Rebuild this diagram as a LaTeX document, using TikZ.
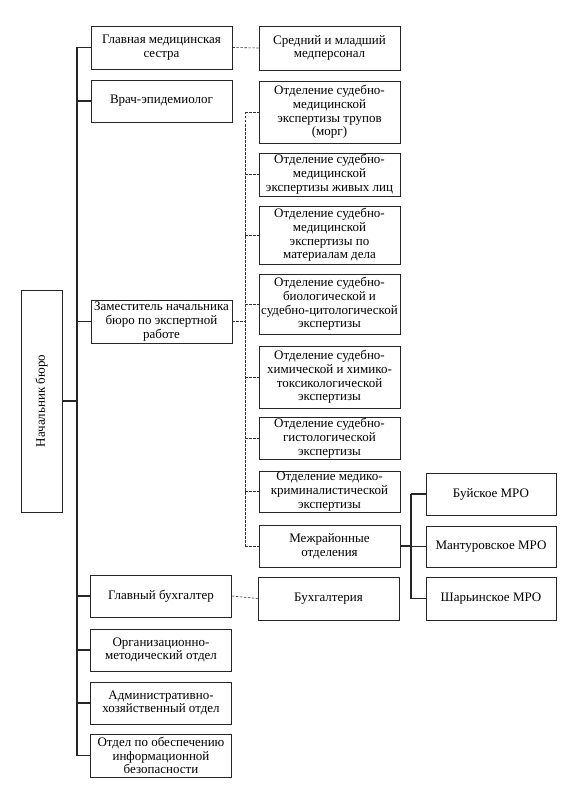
\documentclass[tikz,border=0pt]{standalone}
\usepackage{fontspec}
\setmainfont{Liberation Serif}
\begin{document}
\begin{tikzpicture}[x=1pt,y=-1pt,
  box/.style={draw=black!85, line width=0.7pt, align=center, inner sep=1pt,
    font=\fontsize{13}{13.8}\selectfont, anchor=center},
  trunk/.style={line width=1.3pt, black!85},
  dline/.style={line width=0.6pt, black!80, dash pattern=on 2.5pt off 1.5pt}]
\useasboundingbox (0,0) rectangle (581,797);
% head
\node[box, rotate=90, minimum width=222, minimum height=41] (boss) at (41.5,401) {Начальник бюро};
% left column
\node[box, minimum width=141, minimum height=43] (gms) at (161.5,47.5) {Главная медицинская\\сестра};
\node[box, minimum width=141, minimum height=42] (epi) at (161.5,101) {Врач-эпидемиолог};
\node[box, minimum width=141, minimum height=43] (zam) at (161.5,321.5) {Заместитель начальника\\бюро по экспертной\\работе};
\node[box, minimum width=141, minimum height=42] (gb) at (161,596) {Главный бухгалтер};
\node[box, minimum width=141, minimum height=42] (omo) at (161,650) {Организационно-\\методический отдел};
\node[box, minimum width=141, minimum height=42] (aho) at (161,703) {Административно-\\хозяйственный отдел};
\node[box, minimum width=141, minimum height=43] (ois) at (161,755.5) {Отдел по обеспечению\\информационной\\безопасности};
% middle column
\node[box, minimum width=141, minimum height=44] (med) at (329.5,48) {Средний и младший\\медперсонал};
\node[box, minimum width=141, minimum height=62] (morg) at (329.5,112) {Отделение судебно-\\медицинской\\экспертизы трупов\\(морг)};
\node[box, minimum width=141, minimum height=43] (zhl) at (329.5,174.5) {Отделение судебно-\\медицинской\\экспертизы живых лиц};
\node[box, minimum width=141, minimum height=58] (mat) at (329.5,235) {Отделение судебно-\\медицинской\\экспертизы по\\материалам дела};
\node[box, minimum width=141, minimum height=60] (bio) at (329.5,304) {Отделение судебно-\\биологической и\\судебно-цитологической\\экспертизы};
\node[box, minimum width=141, minimum height=62] (chem) at (329.5,377) {Отделение судебно-\\химической и химико-\\токсикологической\\экспертизы};
\node[box, minimum width=141, minimum height=41] (gist) at (329.5,438.5) {Отделение судебно-\\гистологической\\экспертизы};
\node[box, minimum width=141, minimum height=41] (mk) at (329.5,491.5) {Отделение медико-\\криминалистической\\экспертизы};
\node[box, minimum width=141, minimum height=42] (mezh) at (329.5,546) {Межрайонные\\отделения};
\node[box, minimum width=141, minimum height=43] (buh) at (328.5,598.5) {Бухгалтерия};
% right column
\node[box, minimum width=130, minimum height=42] (buy) at (491,494) {Буйское МРО};
\node[box, minimum width=130, minimum height=41] (mant) at (491,546.5) {Мантуровское МРО};
\node[box, minimum width=130, minimum height=43] (shar) at (491,598.5) {Шарьинское МРО};
% helper coordinates
\coordinate (tx) at (77,0);
\coordinate (dx) at (245,0);
\coordinate (rx) at (411,0);
% trunk
\draw[trunk] (gms.west -| tx) -- (ois.west -| tx);
\draw[trunk] (boss.south) -- (boss.south -| tx);
\foreach \n in {gms,epi,zam,gb,omo,aho,ois}
  \draw[trunk] (\n.west -| tx) -- (\n.west);
% dashed links
\draw[dline] (gms.east) -- (med.west);
\draw[dline] (gb.east) -- (buh.west);
\draw[dline] (zam.east) -- (zam.east -| dx);
\draw[dline] (morg.west -| dx) -- (mezh.west -| dx);
\foreach \n in {morg,zhl,mat,bio,chem,gist,mk,mezh}
  \draw[dline] (\n.west -| dx) -- (\n.west);
% right links
\draw[trunk] (mezh.east) -- (mezh.east -| rx);
\draw[trunk] (buy.west -| rx) -- (shar.west -| rx);
\foreach \n in {buy,mant,shar}
  \draw[trunk] (\n.west -| rx) -- (\n.west);
\end{tikzpicture}
\end{document}
